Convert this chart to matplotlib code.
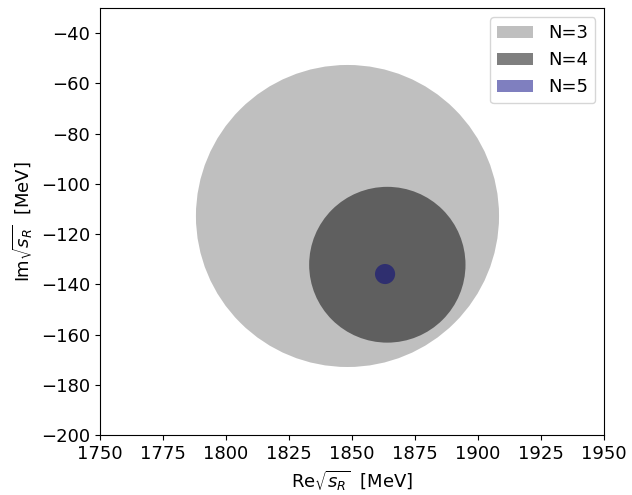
import numpy as np
import matplotlib
matplotlib.use('Agg')
import matplotlib.pyplot as plt
from matplotlib.patches import Ellipse

# pole positions and uncertainty radii for each order N
labels = ['N=3', 'N=4', 'N=5']
re_center = [1848.2, 1864.0, 1863.1]
im_center = [-112.8, -132.2, -135.9]
radius = [60.1, 31.0, 4.0]
colors = ['black', 'black', 'navy']
alphas = [0.25, 0.5, 0.5]

fig = plt.figure(figsize=(6.32, 4.95), dpi=100)
ax = fig.add_axes([0.158, 0.121, 0.798, 0.863])

for lab, x0, y0, r, c, a in zip(labels, re_center, im_center, radius, colors, alphas):
    e = Ellipse((x0, y0), 2*r, 2*r, facecolor=c, edgecolor='none', alpha=a, label=lab)
    ax.add_patch(e)

ax.set_xlim(1750, 1950)
ax.set_ylim(-200, -30)
ax.set_xticks(np.arange(1750, 1951, 25))
ax.set_yticks(np.arange(-200, -39, 20))
ax.tick_params(labelsize=13)
ax.set_xlabel(r'Re$\sqrt{s_R}$  [MeV]', fontsize=13)
ax.set_ylabel(r'Im$\sqrt{s_R}$  [MeV]', fontsize=13)
ax.legend(loc='upper right', fontsize=13)

fig.savefig('out.png', dpi=100)
